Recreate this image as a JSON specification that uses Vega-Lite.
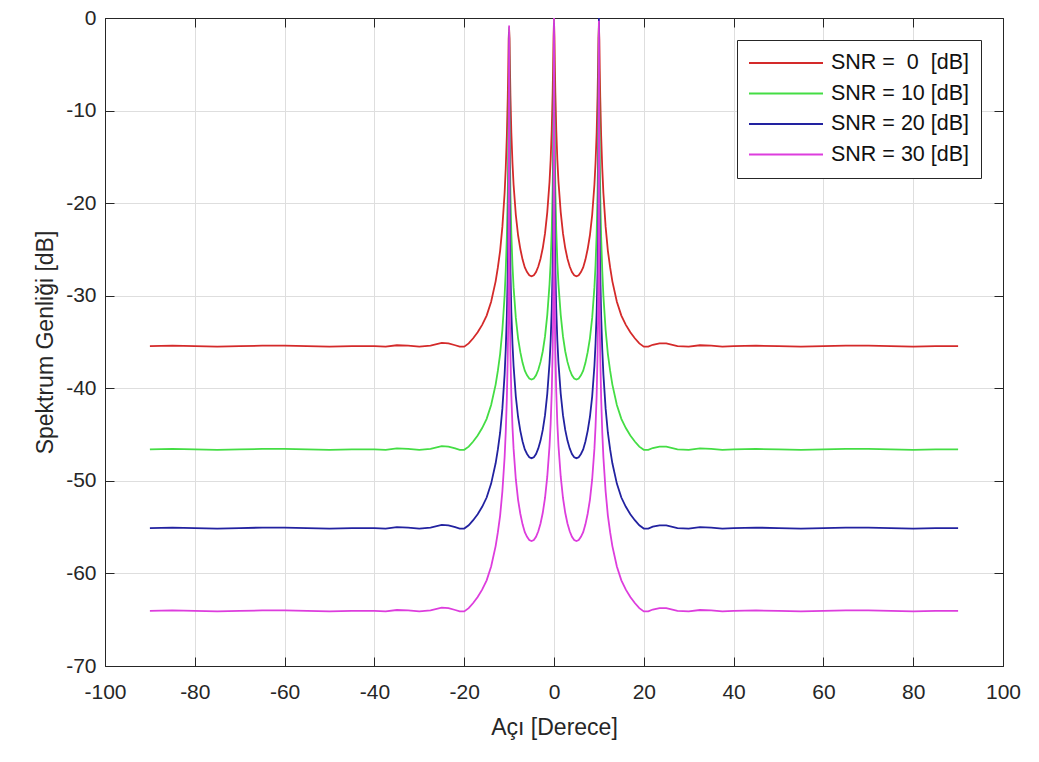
{
  "$schema": "https://vega.github.io/schema/vega-lite/v6.json",
  "width": 898,
  "height": 648,
  "autosize": {"type": "none"},
  "padding": {"left": 105, "top": 18, "right": 36, "bottom": 96},
  "background": "white",
  "config": {
    "font": "Liberation Sans",
    "view": {"stroke": "#262626", "strokeWidth": 1},
    "axis": {
      "domainColor": "#262626",
      "tickColor": "#262626",
      "labelColor": "#262626",
      "titleColor": "#262626",
      "titleFontWeight": "normal",
      "labelFont": "Liberation Sans",
      "titleFont": "Liberation Sans",
      "labelFlush": false,
      "labelOverlap": false,
      "labelBound": false,
      "gridColor": "#dedede",
      "gridWidth": 1
    }
  },
  "data": {
    "values": [
      {"a": -90, "s0": -35.45, "s10": -46.6, "s20": -55.1, "s30": -64.05},
      {"a": -85, "s0": -35.4, "s10": -46.55, "s20": -55.05, "s30": -64.0},
      {"a": -80, "s0": -35.45, "s10": -46.6, "s20": -55.1, "s30": -64.05},
      {"a": -75, "s0": -35.5, "s10": -46.65, "s20": -55.15, "s30": -64.1},
      {"a": -70, "s0": -35.45, "s10": -46.6, "s20": -55.1, "s30": -64.05},
      {"a": -65, "s0": -35.4, "s10": -46.55, "s20": -55.05, "s30": -64.0},
      {"a": -60, "s0": -35.4, "s10": -46.55, "s20": -55.05, "s30": -64.0},
      {"a": -55, "s0": -35.45, "s10": -46.6, "s20": -55.1, "s30": -64.05},
      {"a": -50, "s0": -35.5, "s10": -46.65, "s20": -55.15, "s30": -64.1},
      {"a": -45, "s0": -35.45, "s10": -46.6, "s20": -55.1, "s30": -64.05},
      {"a": -40, "s0": -35.45, "s10": -46.6, "s20": -55.1, "s30": -64.05},
      {"a": -37.5, "s0": -35.5, "s10": -46.65, "s20": -55.15, "s30": -64.1},
      {"a": -35, "s0": -35.35, "s10": -46.5, "s20": -55.0, "s30": -63.95},
      {"a": -32.5, "s0": -35.4, "s10": -46.55, "s20": -55.05, "s30": -64.0},
      {"a": -30, "s0": -35.5, "s10": -46.65, "s20": -55.15, "s30": -64.1},
      {"a": -27.5, "s0": -35.4, "s10": -46.55, "s20": -55.05, "s30": -64.0},
      {"a": -25, "s0": -35.1, "s10": -46.25, "s20": -54.75, "s30": -63.7},
      {"a": -23.5, "s0": -35.15, "s10": -46.3, "s20": -54.8, "s30": -63.75},
      {"a": -22, "s0": -35.35, "s10": -46.5, "s20": -55.0, "s30": -63.95},
      {"a": -21, "s0": -35.5, "s10": -46.65, "s20": -55.15, "s30": -64.1},
      {"a": -20, "s0": -35.5, "s10": -46.65, "s20": -55.15, "s30": -64.1},
      {"a": -19, "s0": -35.15, "s10": -46.3, "s20": -54.8, "s30": -63.75},
      {"a": -18, "s0": -34.6, "s10": -45.75, "s20": -54.25, "s30": -63.2},
      {"a": -17, "s0": -33.95, "s10": -45.1, "s20": -53.6, "s30": -62.55},
      {"a": -16, "s0": -33.15, "s10": -44.3, "s20": -52.8, "s30": -61.75},
      {"a": -15, "s0": -32.15, "s10": -43.3, "s20": -51.8, "s30": -60.75},
      {"a": -14, "s0": -30.65, "s10": -41.8, "s20": -50.3, "s30": -59.25},
      {"a": -13, "s0": -28.45, "s10": -39.6, "s20": -48.1, "s30": -57.05},
      {"a": -12.5, "s0": -26.95, "s10": -38.1, "s20": -46.6, "s30": -55.55},
      {"a": -12, "s0": -25.15, "s10": -36.3, "s20": -44.8, "s30": -53.75},
      {"a": -11.5, "s0": -22.57, "s10": -33.7, "s20": -42.2, "s30": -51.15},
      {"a": -11, "s0": -18.91, "s10": -30.0, "s20": -38.5, "s30": -47.45},
      {"a": -10.75, "s0": -16.25, "s10": -27.31, "s20": -35.8, "s30": -44.75},
      {"a": -10.5, "s0": -12.69, "s10": -23.62, "s20": -32.1, "s30": -41.05},
      {"a": -10.3, "s0": -8.6, "s10": -19.15, "s20": -27.61, "s30": -36.55},
      {"a": -10.2, "s0": -5.78, "s10": -15.72, "s20": -24.12, "s30": -33.05},
      {"a": -10.1, "s0": -2.26, "s10": -9.96, "s20": -18.07, "s30": -26.95},
      {"a": -10, "s0": -1.2, "s10": -1.0, "s20": -1.5, "s30": -0.8},
      {"a": -9.9, "s0": -2.22, "s10": -9.87, "s20": -17.97, "s30": -26.85},
      {"a": -9.8, "s0": -5.64, "s10": -15.52, "s20": -23.92, "s30": -32.85},
      {"a": -9.7, "s0": -8.42, "s10": -18.96, "s20": -27.41, "s30": -36.35},
      {"a": -9.5, "s0": -12.41, "s10": -23.32, "s20": -31.8, "s30": -40.75},
      {"a": -9.25, "s0": -15.67, "s10": -26.71, "s20": -35.2, "s30": -44.15},
      {"a": -9, "s0": -18.02, "s10": -29.1, "s20": -37.6, "s30": -46.55},
      {"a": -8.5, "s0": -21.28, "s10": -32.4, "s20": -40.9, "s30": -49.85},
      {"a": -8, "s0": -23.47, "s10": -34.6, "s20": -43.1, "s30": -52.05},
      {"a": -7.5, "s0": -24.96, "s10": -36.1, "s20": -44.6, "s30": -53.55},
      {"a": -7, "s0": -26.1, "s10": -37.25, "s20": -45.75, "s30": -54.7},
      {"a": -6.5, "s0": -26.95, "s10": -38.1, "s20": -46.6, "s30": -55.55},
      {"a": -6, "s0": -27.45, "s10": -38.6, "s20": -47.1, "s30": -56.05},
      {"a": -5.5, "s0": -27.8, "s10": -38.95, "s20": -47.45, "s30": -56.4},
      {"a": -5, "s0": -27.9, "s10": -39.05, "s20": -47.55, "s30": -56.5},
      {"a": -4.5, "s0": -27.8, "s10": -38.95, "s20": -47.45, "s30": -56.4},
      {"a": -4, "s0": -27.45, "s10": -38.6, "s20": -47.1, "s30": -56.05},
      {"a": -3.5, "s0": -26.85, "s10": -38.0, "s20": -46.5, "s30": -55.45},
      {"a": -3, "s0": -26.0, "s10": -37.15, "s20": -45.65, "s30": -54.6},
      {"a": -2.5, "s0": -24.85, "s10": -36.0, "s20": -44.5, "s30": -53.45},
      {"a": -2, "s0": -23.27, "s10": -34.4, "s20": -42.9, "s30": -51.85},
      {"a": -1.5, "s0": -20.99, "s10": -32.1, "s20": -40.6, "s30": -49.55},
      {"a": -1, "s0": -17.72, "s10": -28.8, "s20": -37.3, "s30": -46.25},
      {"a": -0.75, "s0": -15.38, "s10": -26.41, "s20": -34.9, "s30": -43.85},
      {"a": -0.5, "s0": -12.03, "s10": -22.92, "s20": -31.4, "s30": -40.35},
      {"a": -0.3, "s0": -8.09, "s10": -18.56, "s20": -27.01, "s30": -35.95},
      {"a": -0.2, "s0": -5.35, "s10": -15.14, "s20": -23.53, "s30": -32.45},
      {"a": -0.1, "s0": -2.03, "s10": -9.43, "s20": -17.48, "s30": -26.35},
      {"a": 0, "s0": -0.3, "s10": 0, "s20": -0.5, "s30": 0},
      {"a": 0.1, "s0": -2.03, "s10": -9.43, "s20": -17.48, "s30": -26.35},
      {"a": 0.2, "s0": -5.35, "s10": -15.14, "s20": -23.53, "s30": -32.45},
      {"a": 0.3, "s0": -8.09, "s10": -18.56, "s20": -27.01, "s30": -35.95},
      {"a": 0.5, "s0": -12.03, "s10": -22.92, "s20": -31.4, "s30": -40.35},
      {"a": 0.75, "s0": -15.38, "s10": -26.41, "s20": -34.9, "s30": -43.85},
      {"a": 1, "s0": -17.72, "s10": -28.8, "s20": -37.3, "s30": -46.25},
      {"a": 1.5, "s0": -20.99, "s10": -32.1, "s20": -40.6, "s30": -49.55},
      {"a": 2, "s0": -23.27, "s10": -34.4, "s20": -42.9, "s30": -51.85},
      {"a": 2.5, "s0": -24.85, "s10": -36.0, "s20": -44.5, "s30": -53.45},
      {"a": 3, "s0": -26.0, "s10": -37.15, "s20": -45.65, "s30": -54.6},
      {"a": 3.5, "s0": -26.85, "s10": -38.0, "s20": -46.5, "s30": -55.45},
      {"a": 4, "s0": -27.45, "s10": -38.6, "s20": -47.1, "s30": -56.05},
      {"a": 4.5, "s0": -27.8, "s10": -38.95, "s20": -47.45, "s30": -56.4},
      {"a": 5, "s0": -27.9, "s10": -39.05, "s20": -47.55, "s30": -56.5},
      {"a": 5.5, "s0": -27.8, "s10": -38.95, "s20": -47.45, "s30": -56.4},
      {"a": 6, "s0": -27.45, "s10": -38.6, "s20": -47.1, "s30": -56.05},
      {"a": 6.5, "s0": -26.95, "s10": -38.1, "s20": -46.6, "s30": -55.55},
      {"a": 7, "s0": -26.1, "s10": -37.25, "s20": -45.75, "s30": -54.7},
      {"a": 7.5, "s0": -24.96, "s10": -36.1, "s20": -44.6, "s30": -53.55},
      {"a": 8, "s0": -23.47, "s10": -34.6, "s20": -43.1, "s30": -52.05},
      {"a": 8.5, "s0": -21.28, "s10": -32.4, "s20": -40.9, "s30": -49.85},
      {"a": 9, "s0": -18.02, "s10": -29.1, "s20": -37.6, "s30": -46.55},
      {"a": 9.25, "s0": -15.67, "s10": -26.71, "s20": -35.2, "s30": -44.15},
      {"a": 9.5, "s0": -12.41, "s10": -23.32, "s20": -31.8, "s30": -40.75},
      {"a": 9.7, "s0": -8.42, "s10": -18.96, "s20": -27.41, "s30": -36.35},
      {"a": 9.8, "s0": -5.64, "s10": -15.52, "s20": -23.92, "s30": -32.85},
      {"a": 9.9, "s0": -2.22, "s10": -9.87, "s20": -17.97, "s30": -26.85},
      {"a": 10, "s0": -0.8, "s10": -0.5, "s20": 0, "s30": -0.3},
      {"a": 10.1, "s0": -2.26, "s10": -9.96, "s20": -18.07, "s30": -26.95},
      {"a": 10.2, "s0": -5.78, "s10": -15.72, "s20": -24.12, "s30": -33.05},
      {"a": 10.3, "s0": -8.6, "s10": -19.15, "s20": -27.61, "s30": -36.55},
      {"a": 10.5, "s0": -12.69, "s10": -23.62, "s20": -32.1, "s30": -41.05},
      {"a": 10.75, "s0": -16.25, "s10": -27.31, "s20": -35.8, "s30": -44.75},
      {"a": 11, "s0": -18.91, "s10": -30.0, "s20": -38.5, "s30": -47.45},
      {"a": 11.5, "s0": -22.57, "s10": -33.7, "s20": -42.2, "s30": -51.15},
      {"a": 12, "s0": -25.15, "s10": -36.3, "s20": -44.8, "s30": -53.75},
      {"a": 12.5, "s0": -26.95, "s10": -38.1, "s20": -46.6, "s30": -55.55},
      {"a": 13, "s0": -28.45, "s10": -39.6, "s20": -48.1, "s30": -57.05},
      {"a": 14, "s0": -30.65, "s10": -41.8, "s20": -50.3, "s30": -59.25},
      {"a": 15, "s0": -32.15, "s10": -43.3, "s20": -51.8, "s30": -60.75},
      {"a": 16, "s0": -33.15, "s10": -44.3, "s20": -52.8, "s30": -61.75},
      {"a": 17, "s0": -33.95, "s10": -45.1, "s20": -53.6, "s30": -62.55},
      {"a": 18, "s0": -34.6, "s10": -45.75, "s20": -54.25, "s30": -63.2},
      {"a": 19, "s0": -35.15, "s10": -46.3, "s20": -54.8, "s30": -63.75},
      {"a": 20, "s0": -35.5, "s10": -46.65, "s20": -55.15, "s30": -64.1},
      {"a": 21, "s0": -35.5, "s10": -46.65, "s20": -55.15, "s30": -64.1},
      {"a": 22, "s0": -35.3, "s10": -46.45, "s20": -54.95, "s30": -63.9},
      {"a": 23.5, "s0": -35.15, "s10": -46.3, "s20": -54.8, "s30": -63.75},
      {"a": 25, "s0": -35.15, "s10": -46.3, "s20": -54.8, "s30": -63.75},
      {"a": 27.5, "s0": -35.45, "s10": -46.6, "s20": -55.1, "s30": -64.05},
      {"a": 30, "s0": -35.5, "s10": -46.65, "s20": -55.15, "s30": -64.1},
      {"a": 32.5, "s0": -35.35, "s10": -46.5, "s20": -55.0, "s30": -63.95},
      {"a": 35, "s0": -35.4, "s10": -46.55, "s20": -55.05, "s30": -64.0},
      {"a": 37.5, "s0": -35.5, "s10": -46.65, "s20": -55.15, "s30": -64.1},
      {"a": 40, "s0": -35.45, "s10": -46.6, "s20": -55.1, "s30": -64.05},
      {"a": 45, "s0": -35.4, "s10": -46.55, "s20": -55.05, "s30": -64.0},
      {"a": 50, "s0": -35.45, "s10": -46.6, "s20": -55.1, "s30": -64.05},
      {"a": 55, "s0": -35.5, "s10": -46.65, "s20": -55.15, "s30": -64.1},
      {"a": 60, "s0": -35.45, "s10": -46.6, "s20": -55.1, "s30": -64.05},
      {"a": 65, "s0": -35.4, "s10": -46.55, "s20": -55.05, "s30": -64.0},
      {"a": 70, "s0": -35.4, "s10": -46.55, "s20": -55.05, "s30": -64.0},
      {"a": 75, "s0": -35.45, "s10": -46.6, "s20": -55.1, "s30": -64.05},
      {"a": 80, "s0": -35.5, "s10": -46.65, "s20": -55.15, "s30": -64.1},
      {"a": 85, "s0": -35.45, "s10": -46.6, "s20": -55.1, "s30": -64.05},
      {"a": 90, "s0": -35.45, "s10": -46.6, "s20": -55.1, "s30": -64.05}
    ]
  },
  "transform": [{"fold": ["s0", "s10", "s20", "s30"], "as": ["snr", "db"]}],
  "layer": [
    {
      "mark": {"type": "line", "strokeWidth": 1.8, "clip": true},
      "encoding": {
        "x": {
          "field": "a",
          "type": "quantitative",
          "scale": {"domain": [-100, 100], "nice": false, "zero": false},
          "axis": {
            "title": "Açı [Derece]",
            "values": [-100, -80, -60, -40, -20, 0, 20, 40, 60, 80, 100],
            "labelExpr": "replace(datum.label, '\u2212', '-')",
            "grid": true,
            "tickSize": -9,
            "labelPadding": 24,
            "labelFontSize": 21,
            "titleFontSize": 23,
            "titlePadding": 14
          }
        },
        "y": {
          "field": "db",
          "type": "quantitative",
          "scale": {"domain": [-70, 0], "nice": false, "zero": false},
          "axis": {
            "title": "Spektrum Genliği [dB]",
            "values": [-70, -60, -50, -40, -30, -20, -10, 0],
            "labelExpr": "replace(datum.label, '\u2212', '-')",
            "grid": true,
            "tickSize": -9,
            "labelPadding": 18,
            "labelFontSize": 21,
            "titleFontSize": 23,
            "titlePadding": 8
          }
        },
        "color": {
          "field": "snr",
          "type": "nominal",
          "scale": {
            "domain": ["s0", "s10", "s20", "s30"],
            "range": ["#d42a2a", "#44dd44", "#2222a0", "#dd3ddd"]
          },
          "legend": {
            "title": null,
            "orient": "top-right",
            "offset": 22,
            "symbolType": "stroke",
            "symbolSize": 5476,
            "symbolStrokeWidth": 2,
            "labelFontSize": 21.5,
            "labelFont": "Liberation Sans",
            "labelColor": "#111111",
            "labelOffset": 7,
            "clipHeight": 24,
            "rowPadding": 6.5,
            "padding": 11,
            "strokeColor": "#262626",
            "fillColor": "white",
            "labelExpr": "datum.value === 's0' ? 'SNR = \u00a00\u00a0\u00a0[dB]' : 'SNR = ' + substring(datum.value, 1) + ' [dB]'"
          }
        }
      }
    },
    {
      "mark": {"type": "point", "opacity": 0},
      "encoding": {
        "x": {
          "field": "a",
          "type": "quantitative",
          "axis": {
            "orient": "top",
            "title": null,
            "labels": false,
            "grid": false,
            "tickSize": -9,
            "values": [-100, -80, -60, -40, -20, 0, 20, 40, 60, 80, 100]
          }
        },
        "y": {
          "field": "db",
          "type": "quantitative",
          "axis": {
            "orient": "right",
            "title": null,
            "labels": false,
            "grid": false,
            "tickSize": -9,
            "values": [-70, -60, -50, -40, -30, -20, -10, 0]
          }
        }
      }
    }
  ],
  "resolve": {"axis": {"x": "independent", "y": "independent"}}
}
